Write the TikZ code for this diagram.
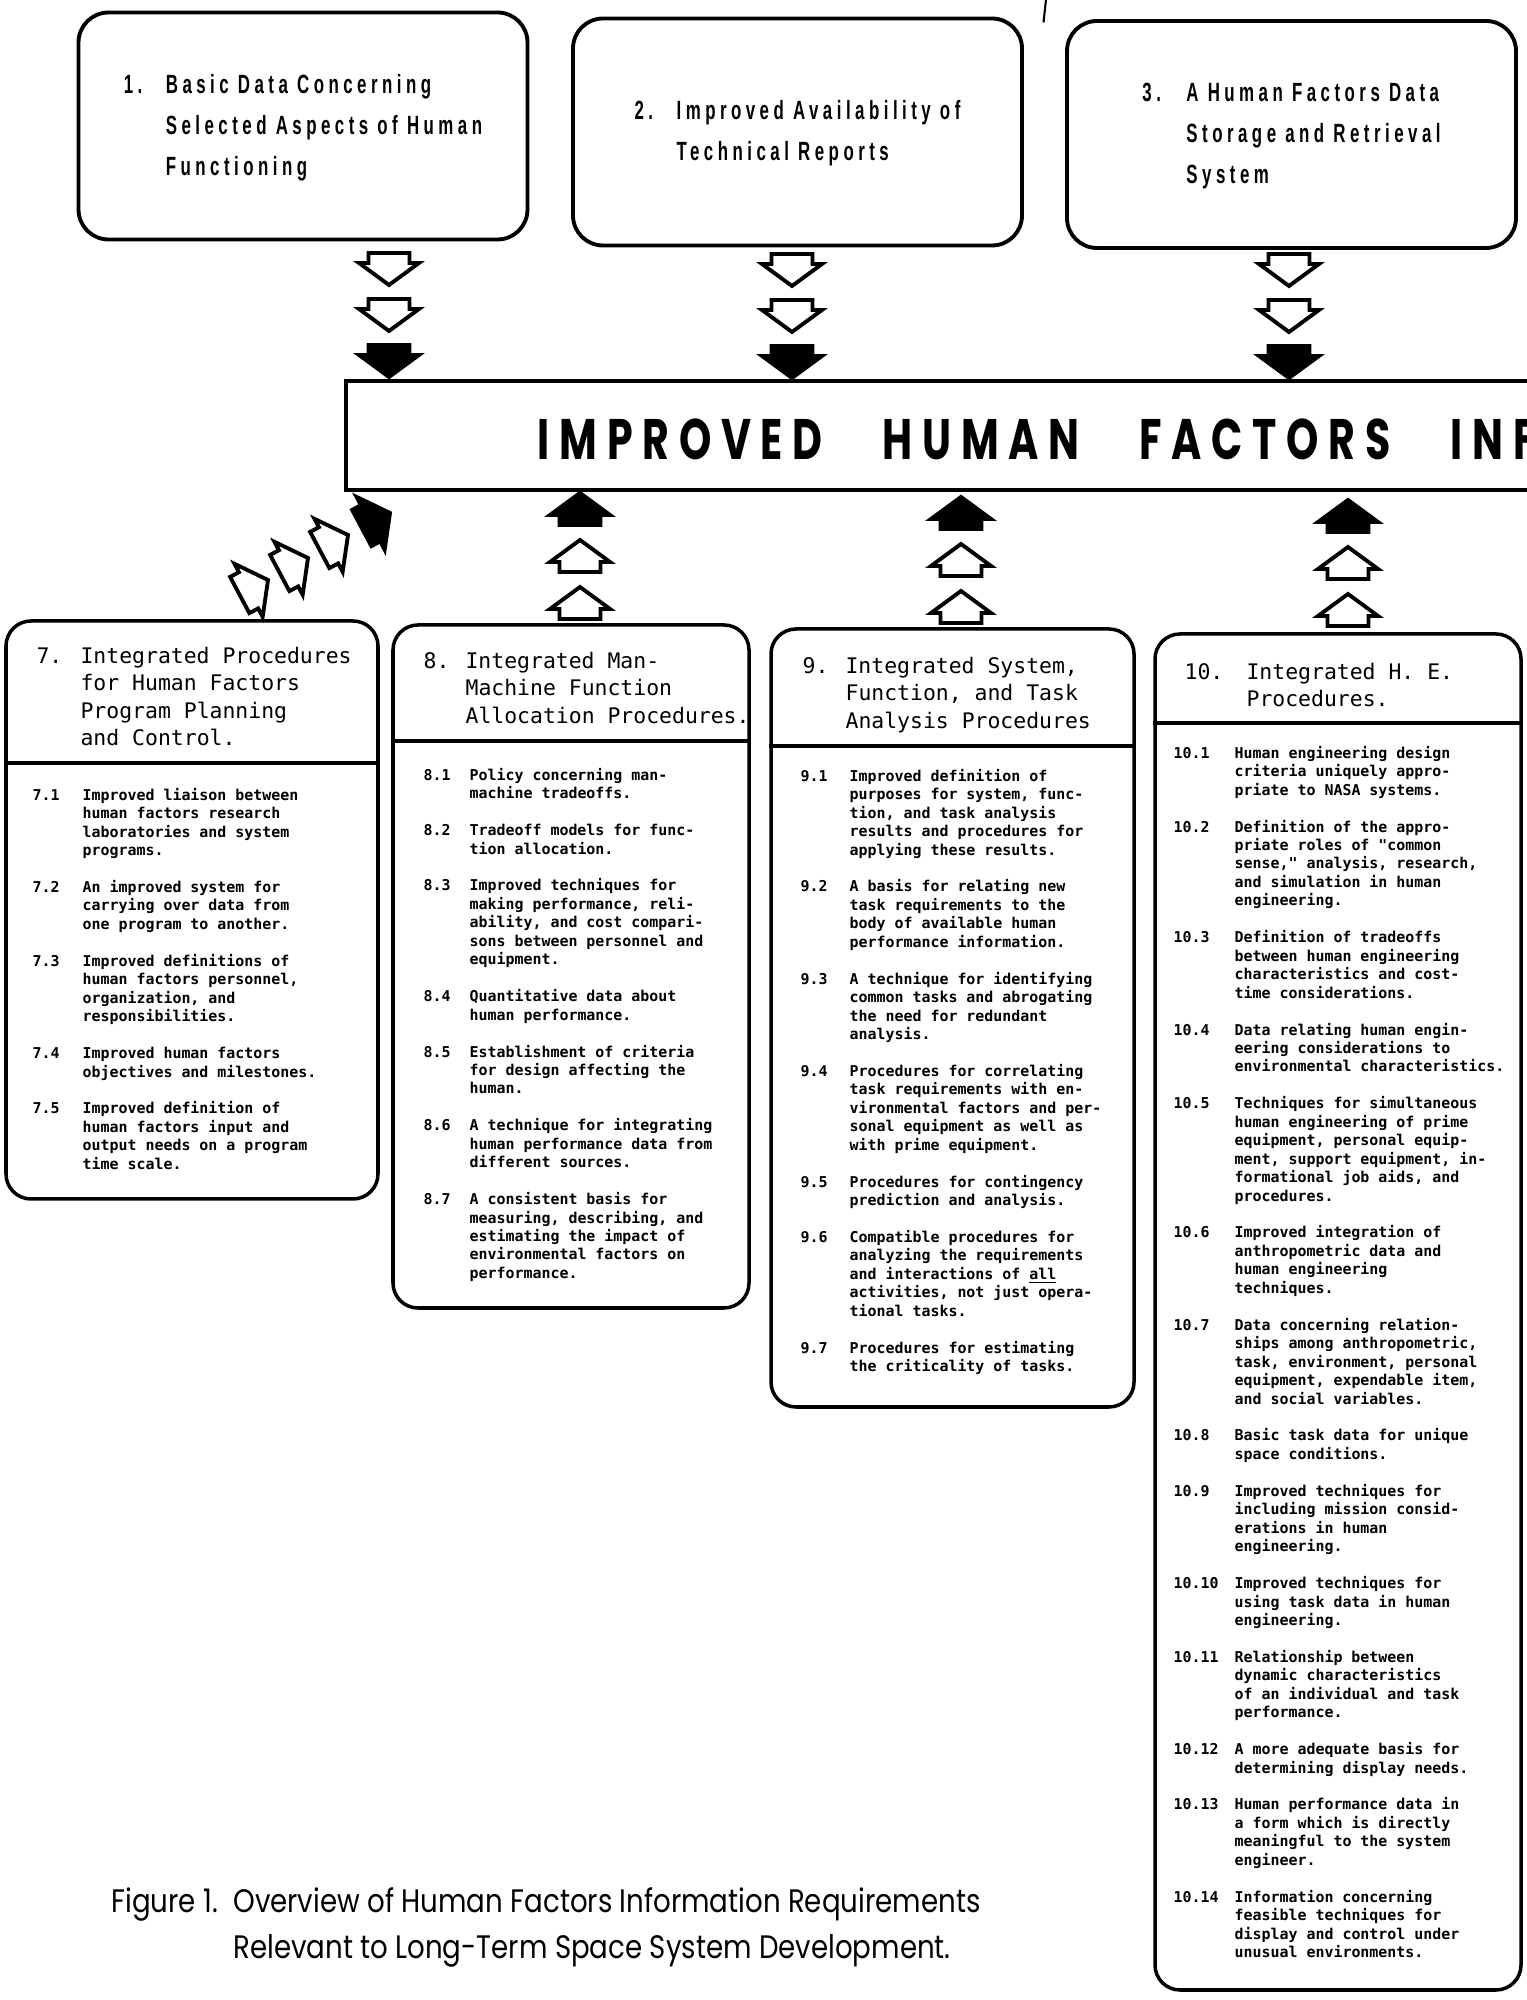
\documentclass[tikz,border=0pt]{standalone}
\usepackage{fontspec}
\setmainfont{Liberation Sans}
\newfontfamily\needfont{Liberation Sans}[FakeStretch=0.64,LetterSpace=17]
\newfontfamily\boxfont{DejaVu Sans Mono}
\newfontfamily\bannerfont{Poppins}[FakeStretch=0.72,LetterSpace=17]
\newfontfamily\capfont{Poppins}[FakeStretch=0.85]

\begin{document}
\begin{tikzpicture}[
  x=1cm,y=1cm,
  needbox/.style={draw,line width=2.2pt,rounded corners=0.6cm,
    minimum width=8.98cm,minimum height=4.54cm,
    font=\needfont\bfseries\fontsize{15}{23.3}\selectfont},
  banner/.style={draw,line width=2.8pt,minimum width=24.6cm,minimum height=2.18cm,inner sep=0pt},
  bannertext/.style={inner sep=0pt,font=\bannerfont\bfseries\fontsize{32.5}{36}\selectfont},
  panel/.style={draw,line width=2pt,rounded corners=0.5cm,inner sep=0pt},
  panelhead/.style={anchor=base west,inner sep=0pt,font=\boxfont\fontsize{12.2}{15.6}\selectfont},
  itemlist/.style={anchor=base west,inner sep=0pt,font=\boxfont\bfseries\fontsize{8.5}{10.5}\selectfont},
  rule/.style={line width=2pt},
  fatarrow/.pic={\draw[line width=2.2pt,line join=miter,fill=#1]
    (0,0) -- (0.6,-0.44) -- (0.41,-0.44) -- (0.41,-0.64) -- (-0.41,-0.64)
    -- (-0.41,-0.44) -- (-0.6,-0.44) -- cycle;}
]
  \useasboundingbox (0,0) rectangle (30.54,40);

  % top row: the three information needs
  \node[needbox] (need1) at (6.06,37.48) {\begin{tabular}{@{}p{0.84cm}@{}l@{}}
    1. & Basic Data Concerning\\ & Selected Aspects of Human\\ & Functioning\end{tabular}};
  \node[needbox] (need2) at (15.95,37.36) {\begin{tabular}{@{}p{0.84cm}@{}l@{}}
    2. & Improved Availability of\\ & Technical Reports\end{tabular}};
  \node[needbox] (need3) at (25.83,37.31) {\begin{tabular}{@{}p{0.88cm}@{}l@{}}
    3. & A Human Factors Data\\ & Storage and Retrieval\\ & System\end{tabular}};
  \draw[line width=1.2pt] (20.93,40.1) -- (20.87,39.55);

  % the banner
  \node[banner] (info) at (19.22,31.29) {};
  \node[bannertext,anchor=west] (infotitle) at ([xshift=3.88cm,yshift=-0.08cm]info.west)
    {IMPROVED\hspace{1.2cm}HUMAN\hspace{1.2cm}FACTORS\hspace{1.2cm}INF};

  % block arrows into and out of the banner
  \foreach \x/\y in {7.78/32.46,15.84/32.44,25.78/32.44} {
    \pic[rotate=180] at (\x,\y) {fatarrow=black};
    \pic[rotate=180] at (\x,\y+0.92) {fatarrow=white};
    \pic[rotate=180] at (\x,\y+1.84) {fatarrow=white};
  }
  \foreach \x/\y in {11.60/30.14,19.22/30.06,26.96/30.00} {
    \pic at (\x,\y) {fatarrow=black};
    \pic at (\x,\y-0.94) {fatarrow=white};
    \pic at (\x,\y-1.88) {fatarrow=white};
  }
  \pic[rotate=-62] at (7.80,29.74) {fatarrow=black};
  \foreach \x/\y in {5.36/28.40,6.16/28.84,6.96/29.30}
    \pic[rotate=-62] at (\x,\y) {fatarrow=white};

  % panel 7
  \node[panel,minimum width=7.44cm,minimum height=11.56cm] (proc7) at (3.84,21.80) {};
  \node[panelhead] (proc7head) at ([xshift=0.64cm,yshift=-0.88cm]proc7.north west)
    {\begin{tabular}[t]{@{}p{0.88cm}@{}l@{}}
    7. & Integrated Procedures\\ & for Human Factors\\ & Program Planning\\ & and Control.\end{tabular}};
  \draw[rule] ([yshift=-2.88cm]proc7.north west) -- ([yshift=-2.88cm]proc7.north east);
  \node[itemlist] (proc7list) at ([xshift=0.56cm,yshift=-3.62cm]proc7.north west)
    {\begin{tabular}[t]{@{}p{1.0cm}@{}l@{}}
    7.1 & Improved liaison between\\ & human factors research\\ & laboratories and system\\ & programs.\\[10.5pt]
    7.2 & An improved system for\\ & carrying over data from\\ & one program to another.\\[10.5pt]
    7.3 & Improved definitions of\\ & human factors personnel,\\ & organization, and\\ & responsibilities.\\[10.5pt]
    7.4 & Improved human factors\\ & objectives and milestones.\\[10.5pt]
    7.5 & Improved definition of\\ & human factors input and\\ & output needs on a program\\ & time scale.
    \end{tabular}};

  % panel 8
  \node[panel,minimum width=7.12cm,minimum height=13.66cm] (proc8) at (11.42,20.67) {};
  \node[panelhead] (proc8head) at ([xshift=0.64cm,yshift=-0.90cm]proc8.north west)
    {\begin{tabular}[t]{@{}p{0.84cm}@{}l@{}}
    8. & Integrated Man-\\ & Machine Function\\ & Allocation Procedures.\end{tabular}};
  \draw[rule] ([yshift=-2.36cm]proc8.north west) -- ([yshift=-2.36cm]proc8.north east);
  \node[itemlist] (proc8list) at ([xshift=0.64cm,yshift=-3.14cm]proc8.north west)
    {\begin{tabular}[t]{@{}p{0.92cm}@{}l@{}}
    8.1 & Policy concerning man-\\ & machine tradeoffs.\\[10.5pt]
    8.2 & Tradeoff models for func-\\ & tion allocation.\\[10.5pt]
    8.3 & Improved techniques for\\ & making performance, reli-\\ & ability, and cost compari-\\ & sons between personnel and\\ & equipment.\\[10.5pt]
    8.4 & Quantitative data about\\ & human performance.\\[10.5pt]
    8.5 & Establishment of criteria\\ & for design affecting the\\ & human.\\[10.5pt]
    8.6 & A technique for integrating\\ & human performance data from\\ & different sources.\\[10.5pt]
    8.7 & A consistent basis for\\ & measuring, describing, and\\ & estimating the impact of\\ & environmental factors on\\ & performance.
    \end{tabular}};

  % panel 9
  \node[panel,minimum width=7.26cm,minimum height=15.56cm] (proc9) at (19.05,19.64) {};
  \node[panelhead] (proc9head) at ([xshift=0.66cm,yshift=-0.92cm]proc9.north west)
    {\begin{tabular}[t]{@{}p{0.86cm}@{}l@{}}
    9. & Integrated System,\\ & Function, and Task\\ & Analysis Procedures\end{tabular}};
  \draw[rule] ([yshift=-2.38cm]proc9.north west) -- ([yshift=-2.38cm]proc9.north east);
  \node[itemlist] (proc9list) at ([xshift=0.62cm,yshift=-3.08cm]proc9.north west)
    {\begin{tabular}[t]{@{}p{0.98cm}@{}l@{}}
    9.1 & Improved definition of\\ & purposes for system, func-\\ & tion, and task analysis\\ & results and procedures for\\ & applying these results.\\[10.5pt]
    9.2 & A basis for relating new\\ & task requirements to the\\ & body of available human\\ & performance information.\\[10.5pt]
    9.3 & A technique for identifying\\ & common tasks and abrogating\\ & the need for redundant\\ & analysis.\\[10.5pt]
    9.4 & Procedures for correlating\\ & task requirements with en-\\ & vironmental factors and per-\\ & sonal equipment as well as\\ & with prime equipment.\\[10.5pt]
    9.5 & Procedures for contingency\\ & prediction and analysis.\\[10.5pt]
    9.6 & Compatible procedures for\\ & analyzing the requirements\\ & and interactions of \underline{all}\\ & activities, not just opera-\\ & tional tasks.\\[10.5pt]
    9.7 & Procedures for estimating\\ & the criticality of tasks.
    \end{tabular}};

  % panel 10
  \node[panel,minimum width=7.32cm,minimum height=27.12cm] (proc10) at (26.76,13.76) {};
  \node[panelhead] (proc10head) at ([xshift=0.62cm,yshift=-0.94cm]proc10.north west)
    {\begin{tabular}[t]{@{}p{1.24cm}@{}l@{}}
    10. & Integrated H. E.\\ & Procedures.\end{tabular}};
  \draw[rule] ([yshift=-1.82cm]proc10.north west) -- ([yshift=-1.82cm]proc10.north east);
  \node[itemlist] (proc10list) at ([xshift=0.40cm,yshift=-2.52cm]proc10.north west)
    {\begin{tabular}[t]{@{}p{1.22cm}@{}l@{}}
    10.1 & Human engineering design\\ & criteria uniquely appro-\\ & priate to NASA systems.\\[10.5pt]
    10.2 & Definition of the appro-\\ & priate roles of "common\\ & sense," analysis, research,\\ & and simulation in human\\ & engineering.\\[10.5pt]
    10.3 & Definition of tradeoffs\\ & between human engineering\\ & characteristics and cost-\\ & time considerations.\\[10.5pt]
    10.4 & Data relating human engin-\\ & eering considerations to\\ & environmental characteristics.\\[10.5pt]
    10.5 & Techniques for simultaneous\\ & human engineering of prime\\ & equipment, personal equip-\\ & ment, support equipment, in-\\ & formational job aids, and\\ & procedures.\\[10.5pt]
    10.6 & Improved integration of\\ & anthropometric data and\\ & human engineering\\ & techniques.\\[10.5pt]
    10.7 & Data concerning relation-\\ & ships among anthropometric,\\ & task, environment, personal\\ & equipment, expendable item,\\ & and social variables.\\[10.5pt]
    10.8 & Basic task data for unique\\ & space conditions.\\[10.5pt]
    10.9 & Improved techniques for\\ & including mission consid-\\ & erations in human\\ & engineering.\\[10.5pt]
    10.10 & Improved techniques for\\ & using task data in human\\ & engineering.\\[10.5pt]
    10.11 & Relationship between\\ & dynamic characteristics\\ & of an individual and task\\ & performance.\\[10.5pt]
    10.12 & A more adequate basis for\\ & determining display needs.\\[10.5pt]
    10.13 & Human performance data in\\ & a form which is directly\\ & meaningful to the system\\ & engineer.\\[10.5pt]
    10.14 & Information concerning\\ & feasible techniques for\\ & display and control under\\ & unusual environments.
    \end{tabular}};

  % caption
  \node[anchor=base west,inner sep=0pt,font=\capfont\fontsize{18.5}{26}\selectfont] (caption) at (2.22,1.74)
    {\begin{tabular}[t]{@{}p{2.44cm}@{}l@{}}
    Figure 1. & Overview of Human Factors Information Requirements\\
    & Relevant to Long-Term Space System Development.\end{tabular}};
\end{tikzpicture}
\end{document}
